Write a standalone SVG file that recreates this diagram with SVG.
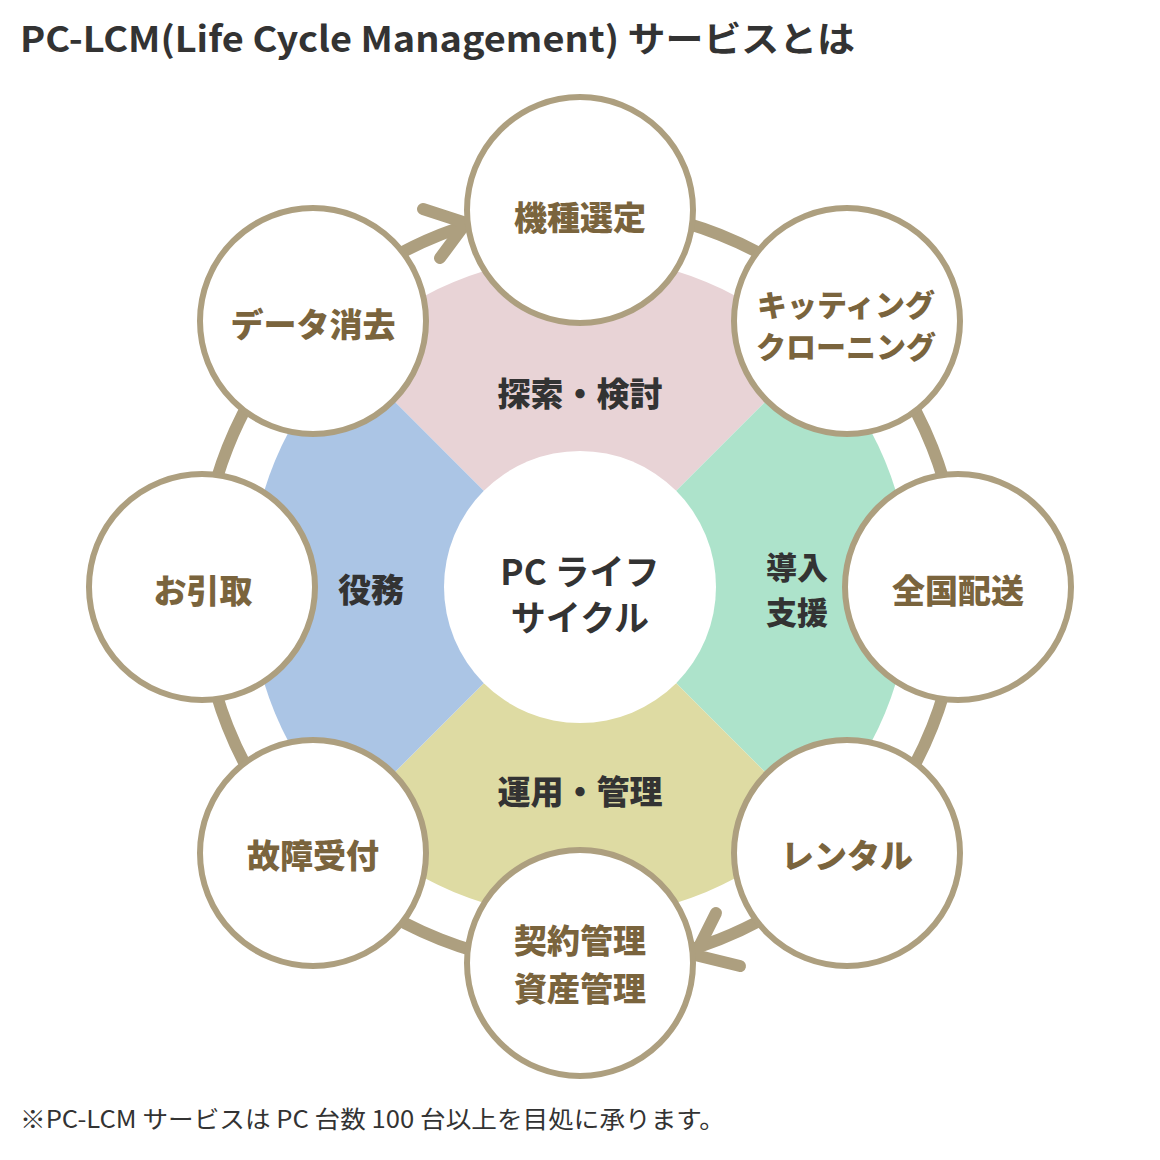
<svg xmlns="http://www.w3.org/2000/svg" width="1160" height="1160" viewBox="0 0 1160 1160">
<style>
.title{font-family:"Noto Sans CJK JP","Liberation Sans",sans-serif;font-weight:700;font-size:35px;fill:#333}
.note{font-family:"Noto Sans CJK JP","Liberation Sans",sans-serif;font-weight:400;font-size:24px;fill:#333}
.node circle{fill:#fff;stroke:#ad9f7f;stroke-width:6}
.node text{font-family:"Noto Sans CJK JP",sans-serif;font-weight:900;font-size:33px;fill:#7a643d;text-anchor:middle;dominant-baseline:central}
.phase{font-family:"Noto Sans CJK JP",sans-serif;font-weight:900;font-size:33px;fill:#333;text-anchor:middle;dominant-baseline:central}
.center{font-family:"Noto Sans CJK JP","Liberation Sans",sans-serif;font-weight:700;font-size:35px;fill:#333;text-anchor:middle;dominant-baseline:central}
.ring{fill:none;stroke:#ad9f7f;stroke-width:12}
.arrow{fill:none;stroke:#ad9f7f;stroke-width:12;stroke-linecap:round;stroke-linejoin:round}
</style>
<rect width="1160" height="1160" fill="#fff"/>
<text class="title" x="20" y="52" textLength="835" lengthAdjust="spacingAndGlyphs">PC-LCM(Life Cycle Management) サービスとは</text>

<g id="quadrants">
<path d="M580,587 L346.6,353.6 A330,330 0 0 1 813.4,353.6 Z" fill="#e8d3d6"/>
<path d="M580,587 L813.4,353.6 A330,330 0 0 1 813.4,820.4 Z" fill="#ade3cb"/>
<path d="M580,587 L813.4,820.4 A330,330 0 0 1 346.6,820.4 Z" fill="#dedba3"/>
<path d="M580,587 L346.6,820.4 A330,330 0 0 1 346.6,353.6 Z" fill="#abc5e5"/>
<circle cx="580" cy="587" r="136" fill="#fff"/>
</g>

<g id="connectors">
<circle class="ring" cx="580" cy="587" r="379"/>
<path class="arrow" d="M423,209 L466,223 L440,258"/>
<path class="arrow" d="M716,913 L695,955 L740,966"/>
</g>

<g id="phase-labels">
<text class="phase" x="580" y="392">探索・検討</text>
<text class="phase" x="797" y="565" style="font-size:31px">導入</text>
<text class="phase" x="797" y="610" style="font-size:31px">支援</text>
<text class="phase" x="580" y="790">運用・管理</text>
<text class="phase" x="371" y="588">役務</text>
</g>

<g id="center">
<text class="center" x="580" y="569">PC ライフ</text>
<text class="center" x="580" y="615">サイクル</text>
</g>

<g id="n-kishu" class="node"><circle cx="580" cy="210" r="113"/><text x="580" y="216">機種選定</text></g>
<g id="n-kitting" class="node"><circle cx="847" cy="321" r="113"/><text x="846" y="303" style="font-size:30px">キッティング</text><text x="846" y="345" style="font-size:30px">クローニング</text></g>
<g id="n-haiso" class="node"><circle cx="958" cy="587" r="113"/><text x="958" y="589">全国配送</text></g>
<g id="n-rental" class="node"><circle cx="847" cy="853" r="113"/><text x="847" y="854">レンタル</text></g>
<g id="n-keiyaku" class="node"><circle cx="580" cy="963" r="113"/><text x="580" y="939">契約管理</text><text x="580" y="987">資産管理</text></g>
<g id="n-kosho" class="node"><circle cx="313" cy="853" r="113"/><text x="313" y="854">故障受付</text></g>
<g id="n-hikitori" class="node"><circle cx="202" cy="587" r="113"/><text x="203" y="589">お引取</text></g>
<g id="n-data" class="node"><circle cx="313" cy="321" r="113"/><text x="313" y="323">データ消去</text></g>

<text class="note" x="20" y="1128" textLength="705" lengthAdjust="spacingAndGlyphs">※PC-LCM サービスは PC 台数 100 台以上を目処に承ります。</text>
</svg>
